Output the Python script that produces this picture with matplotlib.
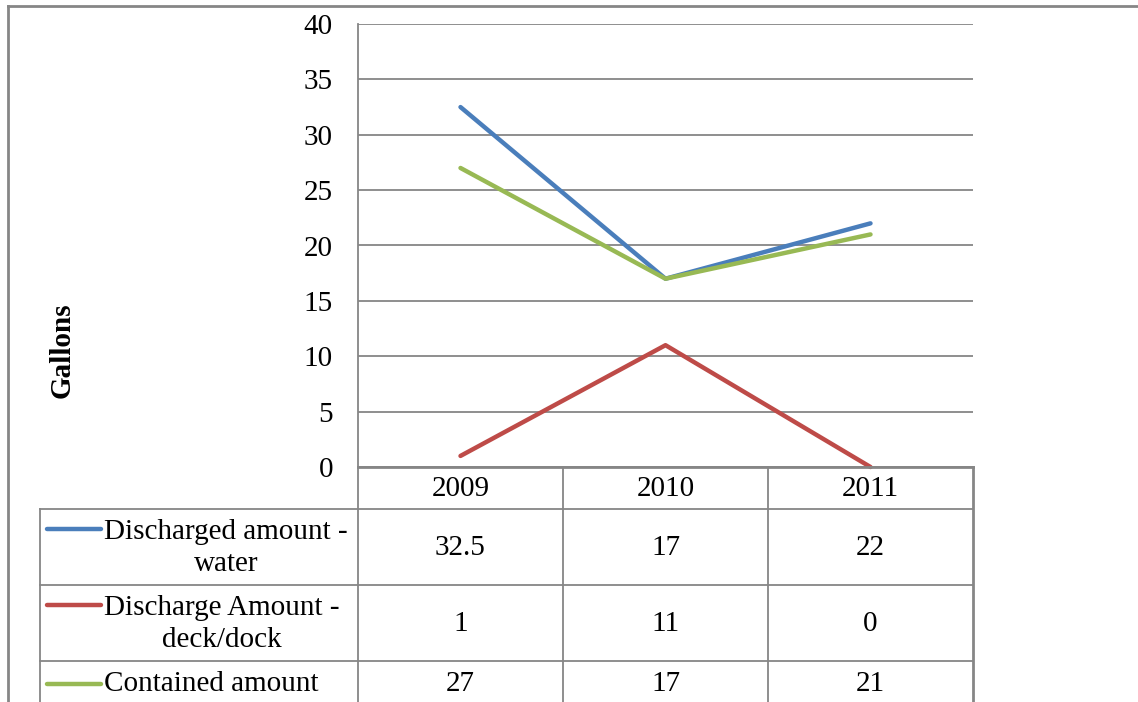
import matplotlib
matplotlib.use('Agg')
import matplotlib.pyplot as plt
from matplotlib.lines import Line2D
import matplotlib.transforms as mtransforms

years = ['2009', '2010', '2011']
water = [32.5, 17, 22]
deck = [1, 11, 0]
contained = [27, 17, 21]
series_names = ['Discharged amount -\nwater', 'Discharge Amount -\ndeck/dock', 'Contained amount']
series_colors = ['#4A7EBB', '#BE4B48', '#98B954']
yticks = [0, 5, 10, 15, 20, 25, 30, 35, 40]

W, H = 1138, 702
FS = 21
plt.rcParams['font.family'] = ['Liberation Serif', 'DejaVu Serif']
fig = plt.figure(figsize=(W / 100, H / 100), dpi=100)

def fx(x):
    return x / W

def fy(y):
    return 1 - y / H

grid_col = '#868686'
ax = fig.add_axes([fx(358), fy(467), fx(973) - fx(358), fy(24) - fy(467)])
ax.set_xlim(-0.5, 2.5)
ax.set_ylim(0, 40)
ax.set_yticks(yticks)
ax.set_yticklabels([str(t) for t in yticks], fontsize=FS)
ax.set_xticks([])
ax.tick_params(axis='y', length=0, pad=18)
ax.grid(axis='y', color=grid_col, linewidth=1.3)
ax.set_axisbelow(True)
for s in ['top', 'right', 'bottom']:
    ax.spines[s].set_visible(False)
ax.spines['left'].set_color(grid_col)
ax.spines['left'].set_linewidth(1.3)

x = range(len(years))
for vals, col in zip([water, deck, contained], series_colors):
    ax.plot(x, vals, color=col, linewidth=3.2, solid_capstyle='round', clip_on=False)

fig.text(fx(62), fy(350), 'Gallons', rotation=90, fontsize=FS, fontweight='bold',
         ha='center', va='center')

def hline(x0, x1, y, lw=1.3):
    fig.add_artist(Line2D([fx(x0), fx(x1)], [fy(y), fy(y)], color=grid_col, linewidth=lw))

def vline(xp, y0, y1, lw=1.3):
    fig.add_artist(Line2D([fx(xp), fx(xp)], [fy(y0), fy(y1)], color=grid_col, linewidth=lw))

# outer frame
hline(8, W, 6, 2)
vline(8, 6, H, 2)

# data table
hline(358, 973, 467, 2)
hline(40, 973, 509)
hline(40, 973, 585)
hline(40, 973, 661)
vline(40, 509, H)
for xp in [358, 563, 768]:
    vline(xp, 467, H)
vline(973, 467, H, 2)

trans = mtransforms.blended_transform_factory(ax.transData, fig.transFigure)
row_y = [548, 624, 684]
for i, yr in enumerate(years):
    fig.text(i, fy(489), yr, transform=trans, ha='center', va='center', fontsize=FS)
for vals, ry in zip([water, deck, contained], row_y):
    for i, v in enumerate(vals):
        fig.text(i, fy(ry), f'{v:g}', transform=trans, ha='center', va='center', fontsize=FS)

key_y = [529, 605, 684]
for name, col, ry, ky in zip(series_names, series_colors, row_y, key_y):
    fig.add_artist(Line2D([fx(47), fx(101)], [fy(ky), fy(ky)], color=col, linewidth=3.2,
                          solid_capstyle='round'))
    fig.text(fx(104), fy(ry), name, ha='left', va='center', fontsize=FS,
             multialignment='center', linespacing=1.3)

fig.savefig('out.png', dpi=100)
